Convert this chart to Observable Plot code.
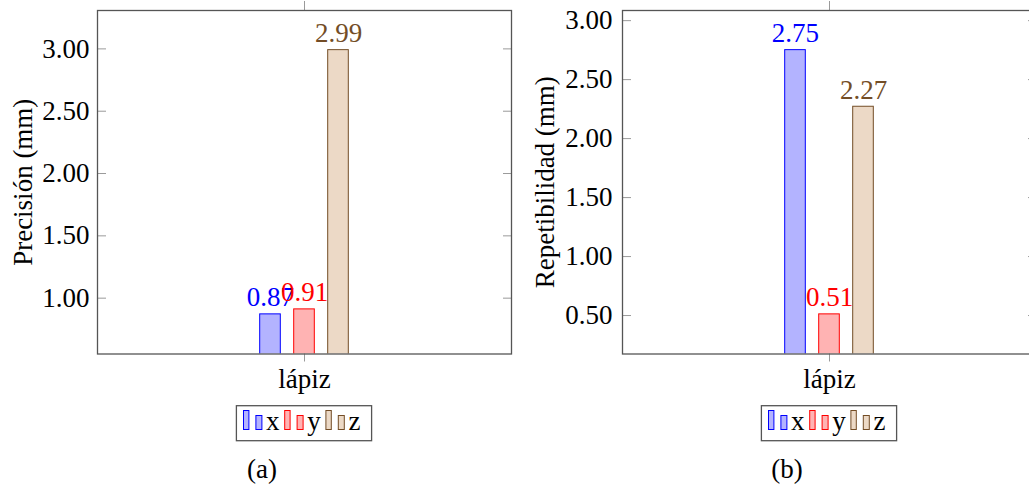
<!DOCTYPE html>
<html>
<head>
<meta charset="utf-8">
<script src="https://cdn.jsdelivr.net/npm/d3@7"></script>
<script src="https://cdn.jsdelivr.net/npm/@observablehq/plot@0.6"></script>
<style>
  html, body { margin: 0; padding: 0; background: #fff; }
  #page { position: relative; width: 1029px; height: 487px; overflow: hidden; font-family: "Liberation Serif", "Times New Roman", serif; }
  .panel { position: absolute; top: 0; }
  #overlay { position: absolute; left: 0; top: 0; pointer-events: none; }
</style>
</head>
<body>
<div id="page"></div>
<script>
// Measured values per tool and axis
const tools = ["lápiz"];
const series = ["x", "y", "z"];
const precision = [0.87, 0.91, 2.99];      // (a) Precisión (mm)
const repeatability = [2.75, 0.51, 2.27];  // (b) Repetibilidad (mm)
const strokeColors = ["#0000ff", "#ff0000", "#734d26"];
const fillColors = ["#b3b3ff", "#ffb3b3", "#ecd9c6"];
const ticksA = [1.0, 1.5, 2.0, 2.5, 3.0];
const ticksB = [0.5, 1.0, 1.5, 2.0, 2.5, 3.0];
const titleA = "Precisión (mm)";
const titleB = "Repetibilidad (mm)";
const captions = ["(a)", "(b)"];

const FONT = "Liberation Serif";
const FS = 27;
const FRAME_W = 414;
const FRAME_COLOR = "#555";
const TICK_COLOR = "#9a9a9a";

function panel({values, ticks, title, marginLeft, marginRight, tickPadding, titleDx}) {
  const rows = series.map((s, i) => ({
    tool: tools[0], series: s, value: values[i], stroke: strokeColors[i], fill: fillColors[i]
  }));
  // pgfplots-style enlarged limits around the data range
  const lo = d3.min(values), hi = d3.max(values), pad = (hi - lo) * 0.15;
  return Plot.plot({
    width: marginLeft + FRAME_W + marginRight,
    height: 400,
    marginLeft, marginRight,
    marginTop: 10,
    marginBottom: 46.5,
    style: {fontFamily: FONT, fontSize: FS + "px", background: "white", maxWidth: "none", overflow: "visible"},
    fx: {domain: tools, padding: 0, label: null, round: false},
    x: {domain: series, axis: null, paddingInner: 0.394, paddingOuter: 4.785, round: false},
    y: {domain: [lo - pad, hi + pad]},
    color: {type: "identity"},
    marks: [
      Plot.barY(rows, {fx: "tool", x: "series", y: "value", fill: "fill", stroke: "stroke", strokeWidth: 1, clip: true}),
      Plot.text(rows, {fx: "tool", x: "series", y: "value", text: d => d.value.toFixed(2), fill: "stroke",
        lineAnchor: "bottom", dy: -8, fontSize: FS}),
      Plot.axisY({ticks, anchor: "left", tickSize: 0, tickPadding, tickFormat: d3.format(".2f"), label: null, fontSize: FS, fill: "black"}),
      Plot.axisY({ticks, anchor: "left", tickSize: -9, tickFormat: () => "", label: null, stroke: TICK_COLOR}),
      Plot.axisY({ticks, anchor: "right", tickSize: -9, tickFormat: () => "", label: null, stroke: TICK_COLOR}),
      Plot.axisFx({anchor: "bottom", tickSize: 8, tickPadding: 7, label: null, stroke: TICK_COLOR, fill: "black", fontSize: FS}),
      Plot.axisFx({anchor: "top", tickSize: 10, tickFormat: () => "", label: null, stroke: TICK_COLOR}),
      Plot.text([title], {text: d => d, frameAnchor: "left", rotate: -90, dx: titleDx, lineAnchor: "middle",
        textAnchor: "middle", fontSize: FS, fill: "black"}),
      Plot.frame({stroke: FRAME_COLOR, strokeWidth: 1.3})
    ]
  });
}

const page = document.getElementById("page");
const layouts = [
  {left: 0, values: precision, ticks: ticksA, title: titleA, marginLeft: 97, marginRight: 9, tickPadding: 8, titleDx: -74},
  {left: 520, values: repeatability, ticks: ticksB, title: titleB, marginLeft: 102, marginRight: 14, tickPadding: 10, titleDx: -77.5}
];

layouts.forEach(l => {
  const div = document.createElement("div");
  div.className = "panel";
  div.style.left = l.left + "px";
  div.style.width = (l.marginLeft + FRAME_W + l.marginRight) + "px";
  div.appendChild(panel(l));
  page.appendChild(div);
});

// Legends and sub-captions below each panel
const overlay = d3.select(page).append("svg")
  .attr("id", "overlay").attr("width", 1029).attr("height", 487)
  .style("font-family", FONT).style("font-size", FS + "px");

layouts.forEach((l, k) => {
  const center = l.left + l.marginLeft + FRAME_W / 2;
  const boxW = 135.2, boxH = 35;
  const g = overlay.append("g").attr("transform", `translate(${center - boxW / 2},405.7)`);
  g.append("rect").attr("x", 0).attr("y", 0).attr("width", boxW).attr("height", boxH)
    .attr("fill", "white").attr("stroke", FRAME_COLOR).attr("stroke-width", 1.3);
  series.forEach((s, i) => {
    const item = g.append("g").attr("transform", `translate(${6.6 + 41.2 * i},0)`);
    item.append("rect").attr("x", 0.5).attr("y", 4.8).attr("width", 5.4).attr("height", 19)
      .attr("fill", fillColors[i]).attr("stroke", strokeColors[i]).attr("stroke-width", 1);
    item.append("rect").attr("x", 12.9).attr("y", 9.8).attr("width", 6).attr("height", 14)
      .attr("fill", fillColors[i]).attr("stroke", strokeColors[i]).attr("stroke-width", 1);
    item.append("text").attr("x", 23).attr("y", 23.8).attr("fill", "black").text(s);
  });
  overlay.append("text").attr("x", center - 42).attr("y", 478).attr("text-anchor", "middle")
    .attr("fill", "black").text(captions[k]);
});
</script>
</body>
</html>
